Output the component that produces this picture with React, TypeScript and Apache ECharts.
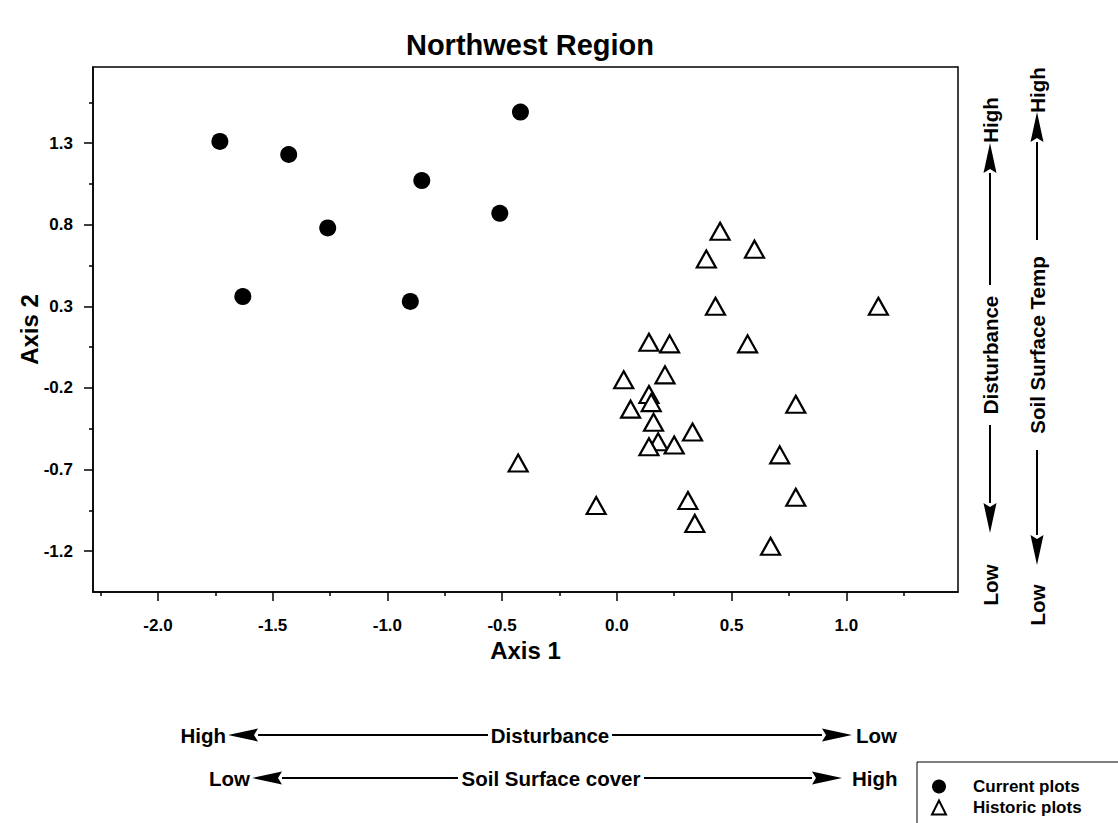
import React, { useEffect, useRef } from 'react';
import * as echarts from 'echarts';

// ---- data ----
const currentPlotsX = [-1.73, -1.43, -0.42, -0.85, -0.51, -1.26, -1.63, -0.90];
const currentPlotsY = [1.31, 1.23, 1.49, 1.07, 0.87, 0.78, 0.36, 0.33];

const historicPlotsX = [0.45, 0.60, 0.39, 0.43, 1.14, 0.14, 0.23, 0.57, 0.03, 0.21, 0.14, 0.15, 0.06, 0.78, 0.16, 0.33, 0.18, 0.14, 0.25, 0.71, -0.43, -0.09, 0.31, 0.78, 0.34, 0.67];
const historicPlotsY = [0.76, 0.65, 0.59, 0.30, 0.30, 0.08, 0.07, 0.07, -0.15, -0.12, -0.24, -0.29, -0.33, -0.30, -0.41, -0.47, -0.53, -0.56, -0.55, -0.61, -0.66, -0.92, -0.89, -0.87, -1.03, -1.17];

const xMajorTicks = [-2.0, -1.5, -1.0, -0.5, 0.0, 0.5, 1.0];
const xMinorTicks = [-2.25, -1.75, -1.25, -0.75, -0.25, 0.25, 0.75, 1.25];
const yMajorTicks = [-1.2, -0.7, -0.2, 0.3, 0.8, 1.3];
const yMinorTicks = [-0.95, -0.45, 0.05, 0.55, 1.05, 1.55];

const seriesNames = ['Current plots', 'Historic plots'];
const titleText = 'Northwest Region';
const xAxisName = 'Axis 1';
const yAxisName = 'Axis 2';

const FONT = '"Liberation Sans", Arial, sans-serif';

function hArrow(x1: number, x2: number, y: number, dir: 'left' | 'right') {
  const L = 30, W = 13;
  const tip = dir === 'left' ? x1 : x2;
  const base = dir === 'left' ? x1 + L : x2 - L;
  return [
    { type: 'line', shape: { x1: dir === 'left' ? base : x1, y1: y, x2: dir === 'left' ? x2 : base, y2: y }, style: { stroke: '#000', lineWidth: 2 } },
    { type: 'polygon', shape: { points: [[tip, y], [base, y - W / 2], [base + (dir === 'left' ? -4 : 4), y], [base, y + W / 2]] }, style: { fill: '#000' } },
  ];
}
function vArrow(x: number, y1: number, y2: number, dir: 'up' | 'down') {
  const L = 30, W = 13;
  const tip = dir === 'up' ? y1 : y2;
  const base = dir === 'up' ? y1 + L : y2 - L;
  return [
    { type: 'line', shape: { x1: x, y1: dir === 'up' ? base : y1, x2: x, y2: dir === 'up' ? y2 : base }, style: { stroke: '#000', lineWidth: 2 } },
    { type: 'polygon', shape: { points: [[x, tip], [x - W / 2, base], [x, base + (dir === 'up' ? -4 : 4)], [x + W / 2, base]] }, style: { fill: '#000' } },
  ];
}
function txt(text: string, x: number, y: number, align: string, size: number, rotate = false) {
  return {
    type: 'text', x, y, rotation: rotate ? Math.PI / 2 : 0,
    style: { text, fill: '#000', font: `bold ${size}px ${FONT}`, align, verticalAlign: 'middle' },
  };
}

export default function App() {
  const ref = useRef<HTMLDivElement>(null);
  useEffect(() => {
    if (!ref.current) return;
    const chart = echarts.init(ref.current, undefined, { renderer: 'svg' });
    const fmt = (v: number) => v.toFixed(1);
    const xMin = -2.283, xMax = 1.487, yMin = -1.45, yMax = 1.766;
    const axisCommon = {
      type: 'value',
      splitLine: { show: false },
      axisLine: { show: true, onZero: false, lineStyle: { color: '#000', width: 1.5 } },
    };
    const anno = 20.5;
    const graphic: any[] = [
      // bottom annotations
      txt('High', 226, 735, 'right', anno),
      ...hArrow(228, 488, 735, 'left'),
      txt('Disturbance', 550, 735, 'center', anno),
      ...hArrow(612, 852, 735, 'right'),
      txt('Low', 856, 735, 'left', anno),
      txt('Low', 250, 778, 'right', anno),
      ...hArrow(252, 458, 778, 'left'),
      txt('Soil Surface cover', 551, 778, 'center', anno),
      ...hArrow(644, 842, 778, 'right'),
      txt('High', 852, 778, 'left', anno),
      // right annotations
      txt('High', 990, 120, 'center', anno, true),
      ...vArrow(990, 143, 285, 'up'),
      txt('Disturbance', 990, 355, 'center', anno, true),
      ...vArrow(990, 425, 533, 'down'),
      txt('Low', 990, 585, 'center', anno, true),
      txt('High', 1037, 90, 'center', anno, true),
      ...vArrow(1037, 112, 240, 'up'),
      txt('Soil Surface Temp', 1037, 345, 'center', anno, true),
      ...vArrow(1037, 450, 565, 'down'),
      txt('Low', 1037, 605, 'center', anno, true),
      // legend frame (extends past the page edge like the reference)
      { type: 'rect', shape: { x: 917, y: 762, width: 240, height: 120 }, style: { fill: 'none', stroke: '#000', lineWidth: 1 }, z: 10 },
    ];
    chart.setOption({
      animation: false,
      backgroundColor: '#fff',
      title: {
        text: titleText, left: 525, top: 25, textAlign: 'center',
        textStyle: { fontSize: 29, fontWeight: 'bold', fontFamily: FONT, color: '#000' },
      },
      grid: { left: 93, top: 67, right: 160, bottom: 231, show: true, borderColor: '#000', borderWidth: 1.5, backgroundColor: 'transparent' },
      legend: {
        orient: 'vertical', left: 917, top: 762,
        data: [{ name: seriesNames[0], icon: 'circle' }, { name: seriesNames[1], icon: 'triangle' }],
        itemWidth: 14, itemHeight: 14, itemGap: 4,
        padding: [16, 4, 0, 14],
        selectedMode: false,
        textStyle: { fontFamily: FONT, fontWeight: 'bold', fontSize: 17, color: '#000', padding: [0, 0, 0, 22] },
      },
      xAxis: [
        {
          ...axisCommon, min: xMin, max: xMax,
          name: xAxisName, nameLocation: 'middle', nameGap: 46,
          nameTextStyle: { fontSize: 24, fontWeight: 'bold', fontFamily: FONT, color: '#000' },
          axisTick: { show: true, inside: false, length: 9, customValues: xMajorTicks, lineStyle: { color: '#000', width: 1.5 } },
          axisLabel: { customValues: xMajorTicks, formatter: fmt, margin: 25, fontSize: 17, fontWeight: 'bold', fontFamily: FONT, color: '#000' },
        },
        {
          ...axisCommon, min: xMin, max: xMax, position: 'bottom',
          axisLine: { show: false, onZero: false },
          axisTick: { show: true, inside: false, length: 4, customValues: xMinorTicks, lineStyle: { color: '#000', width: 1.5 } },
          axisLabel: { show: false },
        },
      ],
      yAxis: [
        {
          ...axisCommon, min: yMin, max: yMax,
          name: yAxisName, nameLocation: 'middle', nameGap: 52, nameMoveOverlap: false,
          nameTextStyle: { fontSize: 24, fontWeight: 'bold', fontFamily: FONT, color: '#000' },
          axisTick: { show: true, inside: false, length: 9, customValues: yMajorTicks, lineStyle: { color: '#000', width: 1.5 } },
          axisLabel: { customValues: yMajorTicks, formatter: fmt, margin: 20, fontSize: 17, fontWeight: 'bold', fontFamily: FONT, color: '#000' },
        },
        {
          ...axisCommon, min: yMin, max: yMax, position: 'left',
          axisLine: { show: false, onZero: false },
          axisTick: { show: true, inside: false, length: 4, customValues: yMinorTicks, lineStyle: { color: '#000', width: 1.5 } },
          axisLabel: { show: false },
        },
      ],
      series: [
        {
          name: seriesNames[0], type: 'scatter', symbol: 'circle', symbolSize: 17,
          itemStyle: { color: '#000', opacity: 1 },
          data: currentPlotsX.map((x, i) => [x, currentPlotsY[i]]),
        },
        {
          name: seriesNames[1], type: 'scatter', symbol: 'triangle', symbolSize: [19, 17],
          itemStyle: { color: '#fff', borderColor: '#000', borderWidth: 2.2, opacity: 1 },
          data: historicPlotsX.map((x, i) => [x, historicPlotsY[i]]),
        },
      ],
      graphic,
    });
    return () => chart.dispose();
  }, []);
  return <div ref={ref} style={{ position: 'absolute', left: 0, top: 0, width: 1118, height: 823 }} />;
}
